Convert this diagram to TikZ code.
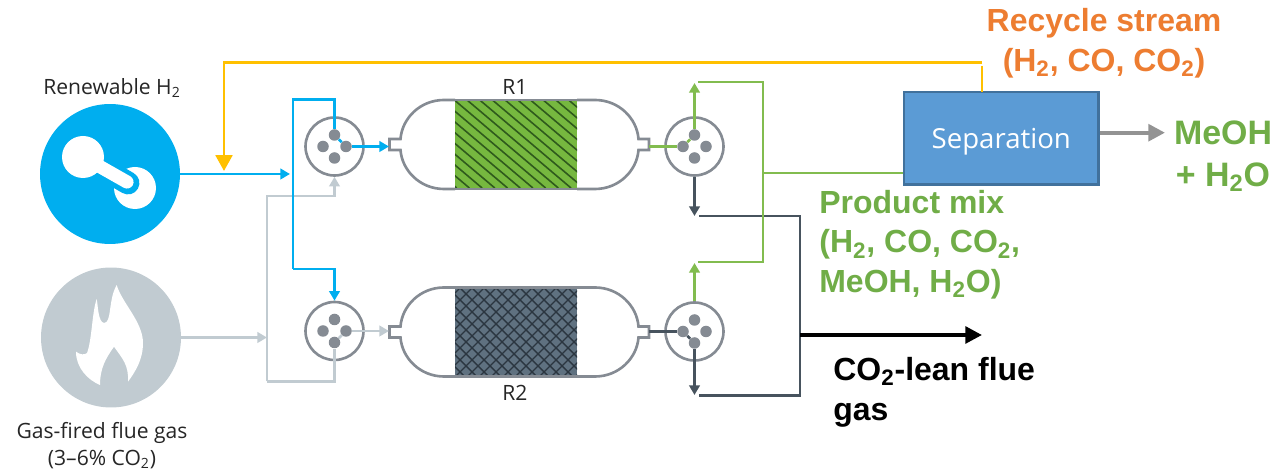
\documentclass[tikz,border=0pt]{standalone}
\usepackage{fontspec}
\setmainfont{Liberation Sans}
\newfontfamily\iconfont{Open Sans}
\usetikzlibrary{arrows.meta}
\definecolor{hblue}{HTML}{00AEEF}
\definecolor{fluegray}{HTML}{C1CBD1}
\definecolor{prodgreen}{HTML}{82BC4F}
\definecolor{bedgreen}{HTML}{76B83F}
\definecolor{hatchgreen}{HTML}{2F5A1C}
\definecolor{bedslate}{HTML}{5F7180}
\definecolor{hatchslate}{HTML}{2B3640}
\definecolor{labelgreen}{HTML}{70AD47}
\definecolor{slate}{HTML}{47535E}
\definecolor{valvegray}{HTML}{858B93}
\definecolor{recycle}{HTML}{FFC000}
\definecolor{labelorange}{HTML}{ED7D31}
\definecolor{sepblue}{HTML}{5B9BD5}
\definecolor{sepedge}{HTML}{41719C}
\tikzset{
  valve/.style={circle, draw=valvegray, line width=1.5pt, minimum size=1.16cm, inner sep=0pt},
  port/.style={circle, fill=valvegray, minimum size=0.23cm, inner sep=0pt},
  source/.style={circle, minimum size=2.8cm, inner sep=0pt},
  caption/.style={font=\iconfont\fontsize{12}{15.5}\selectfont, text=black!85, align=center},
  stream/.style={font=\bfseries\fontsize{18.2}{22.7}\selectfont, align=left},
  tip/.style={-{Stealth[length=5.5pt, width=6pt, inset=0pt]}},
  bigtip/.style={-{Stealth[length=9.5pt, width=9.5pt, inset=0pt]}},
  hline/.style={hblue, line width=1.6pt},
  gline/.style={fluegray, line width=1.6pt},
  pline/.style={prodgreen, line width=1.6pt},
  sline/.style={slate, line width=1.6pt},
  vessel/.style={valvegray, line width=1.5pt}
}
\begin{document}
\begin{tikzpicture}[x=0.02cm, y=-0.02cm]
\useasboundingbox (0,0) rectangle (1279,472);

% Sources
\node[source, fill=hblue] (h2src) at (110,174) {};
\node[source, fill=fluegray] (fluesrc) at (111,337.5) {};
\node[caption] (h2lab) at (112,88) {Renewable H\textsubscript{2}};
\node[caption, anchor=north] (fluelab) at (102,416) {Gas-fired flue gas\\(3–6\% CO\textsubscript{2})};

% Hydrogen icon
\fill[white] (135,188) circle (21);
\draw[hblue, line width=13pt, line cap=round] (83,157) -- (128,183);
\fill[white] (83,157) circle (21);
\draw[white, line width=7.5pt, line cap=round] (83,157) -- (127,182);

% Flame icon
\fill[white] (116.7,285) .. controls (122,303) and (143,322) .. (143,343)
  .. controls (143,360) and (135,372) .. (128,381.7)
  .. controls (129,365) and (122,358) .. (114,346.7)
  .. controls (106,358) and (100,368) .. (100,385)
  .. controls (88,380) and (76,368) .. (76,351.7)
  .. controls (80,355) and (85,355) .. (87,353)
  .. controls (92,340) and (92,312) .. (96.7,299)
  .. controls (98,305) and (98,322) .. (104,323)
  .. controls (112,323) and (108,300) .. (116.7,285) -- cycle;

% Valves
\foreach \vname/\vx/\vy in {vA/334.5/146.5, vB/334.5/331, vC/694.5/146.5, vD/694.5/331.5} {
  \node[valve] (\vname) at (\vx,\vy) {};
  \node[port] (\vname t) at (\vx,\vy-11.5) {};
  \node[port] (\vname b) at (\vx,\vy+11.5) {};
  \node[port] (\vname l) at (\vx-11.5,\vy) {};
  \node[port] (\vname r) at (\vx+11.5,\vy) {};
}

% Catalyst beds
\fill[bedgreen] (455,100) rectangle (577,188);
\fill[bedslate] (455,288) rectangle (577,377);
\begin{scope}
\clip (455,100) rectangle (577,188);
\foreach \hx in {340,352.7,...,600}
  \draw[hatchgreen, line width=0.9pt] (\hx,100) -- ++(104,88);
\end{scope}
\begin{scope}
\clip (455,288) rectangle (577,377);
\foreach \hx in {340,352,...,600} {
  \draw[hatchslate, line width=0.8pt] (\hx,288) -- ++(89,89);
  \draw[hatchslate, line width=0.8pt] (\hx+120,288) -- ++(-89,89);
}
\end{scope}

% Reactor shells
\foreach \ry in {144.5,332} {
  \draw[vessel] (455,\ry-44.5) -- (444,\ry-44.5)
    .. controls (420,\ry-44.5) and (402,\ry-26) .. (400.5,\ry-5.5)
    -- (389.5,\ry-5.5) -- (389.5,\ry+5.5) -- (400.5,\ry+5.5)
    .. controls (402,\ry+26) and (420,\ry+44.5) .. (444,\ry+44.5) -- (455,\ry+44.5);
  \draw[vessel] (577,\ry-44.5) -- (595,\ry-44.5)
    .. controls (619,\ry-44.5) and (637,\ry-26) .. (638.5,\ry-5.5)
    -- (649,\ry-5.5) -- (649,\ry+5.5) -- (638.5,\ry+5.5)
    .. controls (637,\ry+26) and (619,\ry+44.5) .. (595,\ry+44.5) -- (577,\ry+44.5);
  \draw[vessel] (455,\ry-44.5) -- (577,\ry-44.5) (455,\ry+44.5) -- (577,\ry+44.5);
}
\node[caption] (rA) at (515,87) {R1};
\node[caption] (rB) at (515,393) {R2};

% Junction points
\coordinate (feedin) at (290,174);
\coordinate (fluein) at (267,337.5);
\coordinate (outA) at (389,146.5);
\coordinate (outB) at (389,331);
\coordinate (neckC) at (649,146.5);
\coordinate (neckD) at (649,331.5);
\coordinate (greenA) at (694.5,83);
\coordinate (greenB) at (694.5,263);
\coordinate (darkA) at (694.5,216);
\coordinate (darkB) at (694.5,395);
\coordinate (mergeT) at (763,173);
\coordinate (leanT) at (800,335);
\coordinate (leanEnd) at (982,335);
\coordinate (meohEnd) at (1165,132.7);
\coordinate (recycleIn) at (224,171);

% Flue gas lines
\draw[gline, tip] (fluesrc.east) -- (fluein);
\draw[gline, tip] (267,381.5) -- (267,196) -- (334.5,196) -- (vA.south);
\draw[gline] (267,381.5) -- (334.5,381.5) -- (vBb);
\draw[gline] (vBb) -- (vBr);
\draw[gline, tip] (vBr) -- (outB);

% Hydrogen lines
\draw[hline, tip] (h2src.east) -- (feedin);
\draw[hline] (293,269) -- (293,99.5) -- (334.5,99.5) -- (vAt);
\draw[hline] (vAt) -- (vAr);
\draw[hline, tip] (vAr) -- (outA);
\draw[hline, tip] (293,269) -- (334.5,269) -- (vB.north);

% Lean gas lines
\draw[sline] (neckD) -- (vDl);
\draw[sline] (vDl) -- (vDb);
\draw[sline, tip] (vDb) -- (darkB);
\draw[sline, tip] (vC.south) -- (darkA);
\draw[sline] (699,216) -- (800,216) -- (800,395.5) -- (699,395.5);
\draw[black, line width=2.2pt, bigtip] (leanT) -- (leanEnd);

% Product lines
\draw[pline] (neckC) -- (vCl);
\draw[pline] (vCl) -- (vCt);
\draw[pline, tip] (vCt) -- (greenA);
\draw[pline, tip] (vD.north) -- (greenB);
\draw[pline] (698,82) -- (763,82) -- (763,262) -- (698,262);

% Separation
\node[draw=sepedge, line width=1.3pt, fill=sepblue, minimum width=3.89cm, minimum height=1.85cm, inner sep=0pt,
  text=white, text depth=0pt, font=\iconfont\fontsize{15.7}{19}\selectfont] (sep) at (1001.3,138.4) {Separation};
\draw[pline] (mergeT) -- (sep.west |- mergeT);
\draw[gray!85, line width=2.2pt, bigtip] (sep.east |- meohEnd) -- (meohEnd);

% Recycle line
\draw[recycle, line width=1.6pt] (982,92) -- (982,66);
\draw[recycle, line width=1.6pt, -{Stealth[length=9pt, width=9.5pt, inset=0pt]}]
  (982,62.7) -- (224,62.7) -- (recycleIn);

% Stream labels
\node[stream, text=labelorange, align=center] (recyclelab) at (1104,43) {Recycle stream\\(H\textsubscript{2}, CO, CO\textsubscript{2})};
\node[stream, text=labelgreen, align=center, font=\bfseries\fontsize{19.3}{24}\selectfont] (meohlab) at (1223,156) {MeOH\\+ H\textsubscript{2}O};
\node[stream, text=labelgreen, anchor=north west, inner sep=0pt] (prodlab) at (819,189.5) {Product mix\\(H\textsubscript{2}, CO, CO\textsubscript{2},\\MeOH, H\textsubscript{2}O)};
\node[stream, text=black, anchor=north west, inner sep=0pt] (leanlab) at (833,357) {CO\textsubscript{2}-lean flue\\gas};
\end{tikzpicture}
\end{document}
